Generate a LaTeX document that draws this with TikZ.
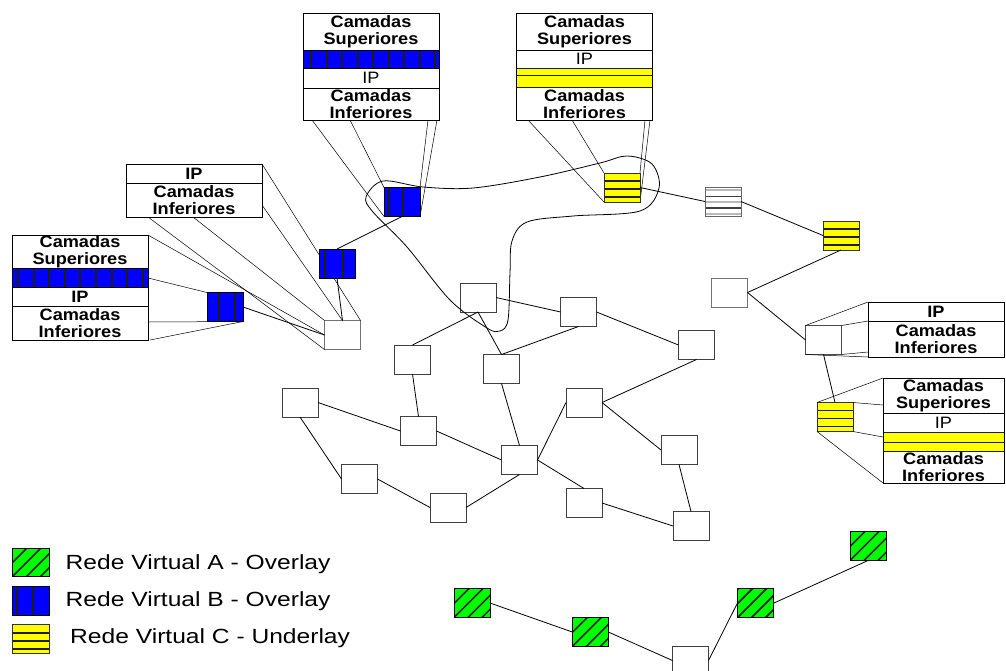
\documentclass[tikz,border=0pt]{standalone}
\usepackage{fontspec}
\setmainfont{Liberation Sans}
\newfontfamily\stackfont{Liberation Sans}[FakeStretch=1.1]
\newfontfamily\legendfont{Liberation Sans}[FakeStretch=1.2]
\usetikzlibrary{calc}
\definecolor{vblue}{RGB}{0,0,255}
\definecolor{vyellow}{RGB}{255,255,0}
\definecolor{vgreen}{RGB}{0,255,0}
\definecolor{stripe}{RGB}{30,30,10}
\begin{document}
\begin{tikzpicture}[x=1pt,y=-1pt,
  box/.style={draw=black!75, fill=white, line width=0.9pt, minimum width=36pt,
    minimum height=29pt, inner sep=0pt, outer sep=0pt},
  link/.style={line width=0.8pt, black},
  proj/.style={line width=0.5pt, black},
  frame/.style={draw=black, fill=white, line width=0.9pt, inner sep=0pt,
    outer sep=0pt, anchor=north west},
  rowline/.style={line width=0.9pt, black},
  lbl/.style={font=\stackfont\bfseries\fontsize{16.5}{17}\selectfont,
    align=center, inner sep=0pt},
  lblr/.style={font=\stackfont\fontsize{16.5}{17}\selectfont, inner sep=0pt},
  bandline/.style={line width=2pt, stripe},
  bnode/.style 2 args={box, draw=black, fill=vblue, path picture={
    \draw[bandline] ([xshift=#1pt]path picture bounding box.south west)
      -- ([xshift=#1pt]path picture bounding box.north west);
    \draw[bandline] ([xshift=#2pt]path picture bounding box.south west)
      -- ([xshift=#2pt]path picture bounding box.north west);}},
  ynode/.style={box, draw=black!80, fill=vyellow, path picture={
    \foreach \d in {8,16,24}
      \draw[bandline, line width=1.6pt]
        ([yshift=-\d pt]path picture bounding box.north west)
        -- ([yshift=-\d pt]path picture bounding box.north east);}},
  wnode/.style={box, draw=black!60, path picture={
    \draw[line width=2pt, gray!55]
      ([yshift=-3pt]path picture bounding box.north west) -- ([yshift=-3pt]path picture bounding box.north east)
      ([yshift=-15pt]path picture bounding box.north west) -- ([yshift=-15pt]path picture bounding box.north east)
      ([yshift=-26.5pt]path picture bounding box.north west) -- ([yshift=-26.5pt]path picture bounding box.north east);
    \draw[line width=1.5pt, black!75]
      ([yshift=-9.5pt]path picture bounding box.north west) -- ([yshift=-9.5pt]path picture bounding box.north east)
      ([yshift=-21pt]path picture bounding box.north west) -- ([yshift=-21pt]path picture bounding box.north east);}},
  gnode/.style={box, draw=black, fill=vgreen, path picture={
    \foreach \k in {-42,-28,...,42}
      \draw[line width=1.6pt, black!85]
        ([xshift=\k pt]path picture bounding box.south west) -- ++(40pt,40pt);}},
]
\fill[white] (0,0) rectangle (1006,670);
\useasboundingbox (0,0) rectangle (1006,670);

% ---------- physical network ----------
\node[box] (A) at (478,297.5) {};
\node[box] (B) at (578.5,312) {};
\node[box] (C) at (696.5,345) {};
\node[box] (D) at (412.5,359.5) {};
\node[box] (E) at (501.5,369) {};
\node[box] (F) at (300,402.5) {};
\node[box] (G) at (584,402.5) {};
\node[box] (H) at (418.5,431) {};
\node[box] (I) at (679,450) {};
\node[box] (J) at (519.5,460) {};
\node[box] (K) at (359.5,479) {};
\node[box] (L) at (584,503) {};
\node[box] (M) at (448,507.5) {};
\node[box] (N) at (691,526) {};
\node[box] (Z) at (690.5,660.5) {};

\draw[link] (A.east) -- (B.west);
\draw[link] (B.east) -- (C.west);
\draw[link] (A.south) -- (D.north);
\draw[link] (A.south) -- (E.north);
\draw[link] (B.south) -- (E.north);
\draw[link] (D.south) -- (H.north);
\draw[link] (F.east) -- (H.west);
\draw[link] (F.south) -- (K.west);
\draw[link] (K.east) -- (M.west);
\draw[link] (H.east) -- (J.west);
\draw[link] (E.south) -- (J.north);
\draw[link] (J.south) -- (M.east);
\draw[link] (J.east) -- (G.west);
\draw[link] (G.east) -- (C.south);
\draw[link] (G.east) -- (I.west);
\draw[link] (J.east) -- (L.north);
\draw[link] (L.east) -- (N.west);
\draw[link] (I.south) -- (N.north);

% ---------- anchor points on the layer stacks ----------
\coordinate (tb1) at (312,120);
\coordinate (tb2) at (350,120);
\coordinate (tb3) at (428,120);
\coordinate (tb4) at (437,120);
\coordinate (ty1) at (528,120);
\coordinate (ty2) at (572,120);
\coordinate (ty3) at (645,120);
\coordinate (ty4) at (650,120);
\coordinate (li1) at (262,164);
\coordinate (li2) at (262,205);
\coordinate (li3) at (193,217);
\coordinate (li4) at (148,217);
\coordinate (ll1) at (148,235);
\coordinate (ll2) at (148,278);
\coordinate (ll3) at (148,322);
\coordinate (ll4) at (150,340);
\coordinate (ri1) at (868,302);
\coordinate (ri2) at (868,321);
\coordinate (ri3) at (868,352);
\coordinate (ri4) at (868,357);
\coordinate (rs1) at (883,378);
\coordinate (rs2) at (883,405);
\coordinate (rs3) at (883,437);
\coordinate (rs4) at (883,483);

% ---------- edge nodes of the virtual networks ----------
\node[box, draw=black!55] (P) at (342.5,335) {};
\node[box, draw=black!55] (U) at (729.5,292.5) {};
\node[box, draw=black!70] (S) at (823.5,340) {};

% magnification lines (drawn below the nodes)
\draw[proj] (li1) -- (P.north east);
\draw[proj] (li2) -- (P.north);
\draw[proj] (li3) -- (P.north west);
\draw[proj] (li4) -- (P.south west);
\draw[proj] (ll1) -- (P.west);
\draw[proj] (tb1) -- (384,216.5);
\draw[proj] (tb2) -- (384,187.5);
\draw[proj] (tb3) -- (420,187.5);
\draw[proj] (tb4) -- (420,216.5);
\draw[proj] (ty1) -- (604,202);
\draw[proj] (ty2) -- (604,173);
\draw[proj] (ty3) -- (640,173);
\draw[proj] (ty4) -- (640,202);

% loop enclosing the tunnel end points
\draw[line width=0.8pt] plot[smooth cycle, tension=0.55] coordinates {
  (366,197) (383,181) (423,187) (473,188) (540,177) (600,163) (627,156)
  (652,164) (659,188) (640,211) (573,216) (527,222) (512,241) (510,273)
  (508,320) (500,331) (487,328) (450,300) (407,247) (373,212)};

\node[bnode={5}{19}] (Y) at (402,202) {};
\node[bnode={6}{24}] (Q) at (337,263.5) {};
\node[bnode={12}{28}] (R) at (225,307) {};
\node[ynode] (X) at (622,187.5) {};
\node[ynode] (V) at (841,235.5) {};
\node[ynode] (T) at (835,417) {};
\node[wnode] (W) at (723,201.5) {};

\draw[proj] (ll2) -- (R.north west);
\draw[proj] (ll3) -- (R.south east);
\draw[proj] (ll4) -- (R.south east);
\draw[proj] (S.north west) -- (ri1);
\draw[proj] (S.north east) -- (ri2);
\draw[proj] (S.south east) -- (ri3);
\draw[proj] (S.south west) -- (ri4);
\draw[proj] (T.north west) -- (rs1);
\draw[proj] (T.north east) -- (rs2);
\draw[proj] (T.south east) -- (rs3);
\draw[proj] (T.south west) -- (rs4);

\draw[link] (Y.south) -- (Q.north);
\draw[link] (Q.south) -- (P.north);
\draw[link] (R.east) -- (P.west);
\draw[link] (X.east) -- (W.west);
\draw[link] (W.east) -- (V.west);
\draw[link] (V.south) -- (U.east);
\draw[link] (U.east) -- (S.west);
\draw[link] (S.south) -- (T.north);

% ---------- overlay A ----------
\node[gnode] (G1) at (472,603) {};
\node[gnode] (G2) at (590.3,632) {};
\node[gnode] (G3) at (755.3,603.3) {};
\node[gnode] (G4) at (868,546) {};
\draw[link] (G1.east) -- (G2.west);
\draw[link] (G2.east) -- (Z.west);
\draw[link] (Z.east) -- (G3.west);
\draw[link] (G3.east) -- (G4.south);

% ---------- layer stacks ----------
% top: tunnel end point of network B
\node[frame, minimum width=136pt, minimum height=107pt] (tb) at (303,13) {};
\fill[vblue] (303,50) rectangle (439,68);
\foreach \x in {311,326.5,...,435} \draw[bandline] (\x,50) -- (\x,68);
\draw[rowline] (303,50) -- (439,50) (303,68) -- (439,68) (303,88) -- (439,88);
\draw[line width=0.9pt] (tb.south west) rectangle (tb.north east);
\node[lbl] (tbs) at (371,31.5) {Camadas\\Superiores};
\node[lblr] (tbi) at (371,78) {IP};
\node[lbl] (tbc) at (371,104) {Camadas\\Inferiores};

% top: tunnel end point of network C
\node[frame, minimum width=136pt, minimum height=107pt] (ty) at (516.5,13) {};
\fill[vyellow] (516.5,68) rectangle (652.5,88);
\draw[bandline, line width=1.6pt] (516.5,75.5) -- (652.5,75.5);
\draw[rowline] (516.5,50) -- (652.5,50);
\draw[bandline, line width=1.4pt] (516.5,68.5) -- (652.5,68.5) (516.5,87.5) -- (652.5,87.5);
\draw[line width=0.9pt] (ty.south west) rectangle (ty.north east);
\node[lbl] (tys) at (584.5,31.5) {Camadas\\Superiores};
\node[lblr] (tyi) at (584.5,59) {IP};
\node[lbl] (tyc) at (584.5,104) {Camadas\\Inferiores};

% left: physical node
\node[frame, minimum width=136pt, minimum height=53pt] (li) at (126,164) {};
\draw[rowline] (126,183) -- (262,183);
\node[lbl] (lii) at (194,173.5) {IP};
\node[lbl] (lic) at (194,200) {Camadas\\Inferiores};

% left: overlay B node
\node[frame, minimum width=136pt, minimum height=105pt] (ll) at (12,235) {};
\fill[vblue] (12,268) rectangle (148,287);
\foreach \x in {18,33.6,...,144} \draw[bandline] (\x,268) -- (\x,287);
\draw[rowline] (12,268) -- (148,268) (12,287) -- (148,287) (12,306) -- (148,306);
\draw[line width=0.9pt] (ll.south west) rectangle (ll.north east);
\node[lbl] (lls) at (80,251.5) {Camadas\\Superiores};
\node[lbl] (lli) at (80,296.5) {IP};
\node[lbl] (llc) at (80,323) {Camadas\\Inferiores};

% right: physical node
\node[frame, minimum width=136pt, minimum height=55pt] (ri) at (868,302) {};
\draw[rowline] (868,321) -- (1004,321);
\node[lbl] (rii) at (936,311.5) {IP};
\node[lbl] (ric) at (936,339) {Camadas\\Inferiores};

% right: underlay C node
\node[frame, minimum width=121pt, minimum height=105pt] (rs) at (883,378) {};
\fill[vyellow] (883,432) rectangle (1004,452);
\draw[bandline, line width=1.6pt] (883,442.5) -- (1004,442.5);
\draw[rowline] (883,413) -- (1004,413);
\draw[bandline, line width=1.4pt] (883,432.5) -- (1004,432.5) (883,451.5) -- (1004,451.5);
\draw[line width=0.9pt] (rs.south west) rectangle (rs.north east);
\node[lbl] (rss) at (943.5,395.5) {Camadas\\Superiores};
\node[lblr] (rsi) at (943.5,422.5) {IP};
\node[lbl] (rsc) at (943.5,467.5) {Camadas\\Inferiores};

% ---------- legend ----------
\node[gnode, minimum width=37pt, minimum height=28.5pt] (LA) at (30.7,562.5) {};
\node[bnode={5}{21}, minimum width=37pt, minimum height=28.5pt] (LB) at (30.7,600.8) {};
\node[ynode, minimum width=37pt, minimum height=28.5pt] (LC) at (30.7,639) {};
\node[anchor=base west, inner sep=0pt, font=\legendfont\fontsize{20.5}{24}\selectfont]
  (TA) at (65.5,569.5) {Rede Virtual A - Overlay};
\node[anchor=base west, inner sep=0pt, font=\legendfont\fontsize{20.5}{24}\selectfont]
  (TB) at (65.5,606.5) {Rede Virtual B - Overlay};
\node[anchor=base west, inner sep=0pt, font=\legendfont\fontsize{20.5}{24}\selectfont]
  (TC) at (70,643.5) {Rede Virtual C - Underlay};
\end{tikzpicture}
\end{document}
